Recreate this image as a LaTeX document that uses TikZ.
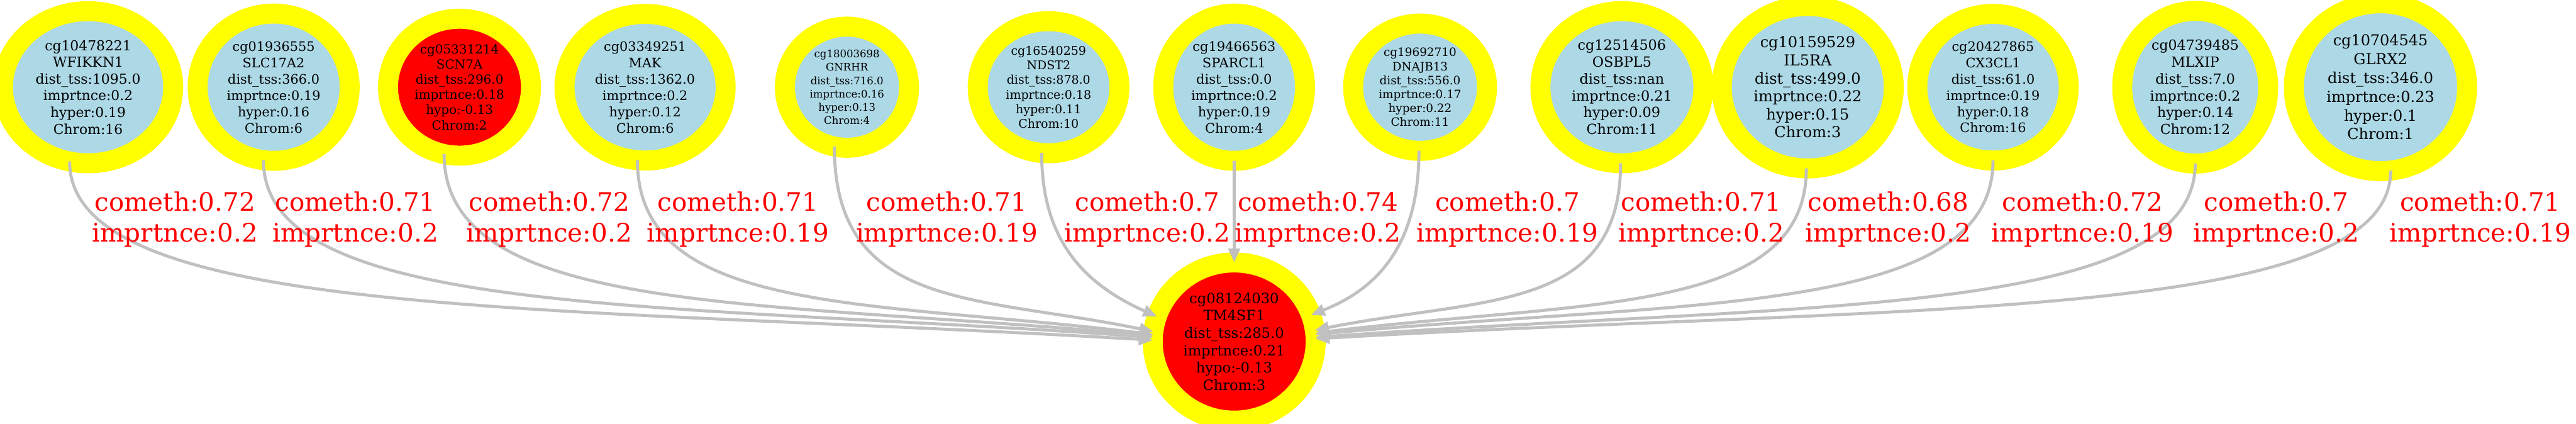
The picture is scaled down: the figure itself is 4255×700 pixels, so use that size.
\documentclass[tikz,border=0pt]{standalone}
\usepackage{fontspec}
\setmainfont{DejaVu Serif}
\usepackage{tikz}
\usetikzlibrary{arrows.meta,shapes.geometric}
\definecolor{lblue}{HTML}{ADD8E6}
\definecolor{egray}{HTML}{C0C0C0}
\definecolor{ring}{RGB}{255,255,0}
\definecolor{hypored}{RGB}{255,0,0}

\begin{document}
\begin{tikzpicture}[
  x=0.01cm, y=-0.01cm,
  cpg/.style={ellipse, draw=ring, line width=0.33cm, fill=lblue, inner sep=0pt, outer sep=0pt, align=center},
  hypo/.style={cpg, fill=hypored},
  fs/.style 2 args={font=\fontsize{#1pt}{#2pt}\selectfont},
  sz/.style 2 args={minimum width=#1, minimum height=#2},
  lab/.style={text=hypored, align=center, inner sep=0pt, fs={11.95}{14.4}},
  arr/.style={-{Triangle[length=0.23cm, width=0.19cm]}, draw=egray, line width=0.05cm}
]
  \useasboundingbox (0,0) rectangle (4255,700);
  \node[cpg, sz={2.81cm}{2.51cm}, fs={6.46}{7.85}] (wfikkn1) at (145.5,144) {cg10478221\\WFIKKN1\\dist\_tss:1095.0\\imprtnce:0.2\\hyper:0.19\\Chrom:16};
  \node[cpg, sz={2.51cm}{2.43cm}, fs={6.15}{7.68}] (slc17a2) at (452,144) {cg01936555\\SLC17A2\\dist\_tss:366.0\\imprtnce:0.19\\hyper:0.16\\Chrom:6};
  \node[hypo, sz={2.36cm}{2.26cm}, fs={5.89}{7.11}] (scn7a) at (759,144) {cg05331214\\SCN7A\\dist\_tss:296.0\\imprtnce:0.18\\hypo:-0.13\\Chrom:2};
  \node[cpg, sz={2.66cm}{2.42cm}, fs={6.15}{7.68}] (mak) at (1065.5,144) {cg03349251\\MAK\\dist\_tss:1362.0\\imprtnce:0.2\\hyper:0.12\\Chrom:6};
  \node[cpg, sz={2.05cm}{2.00cm}, fs={4.89}{6.26}] (gnrhr) at (1399,144) {cg18003698\\GNRHR\\dist\_tss:716.0\\imprtnce:0.16\\hyper:0.13\\Chrom:4};
  \node[cpg, sz={2.34cm}{2.18cm}, fs={5.61}{6.83}] (ndst2) at (1732,144) {cg16540259\\NDST2\\dist\_tss:878.0\\imprtnce:0.18\\hyper:0.11\\Chrom:10};
  \node[cpg, sz={2.34cm}{2.43cm}, fs={6.20}{7.68}] (sparcl1) at (2038.5,144) {cg19466563\\SPARCL1\\dist\_tss:0.0\\imprtnce:0.2\\hyper:0.19\\Chrom:4};
  \node[cpg, sz={2.21cm}{2.10cm}, fs={5.43}{6.54}] (dnajb13) at (2345.6,144) {cg19692710\\DNAJB13\\dist\_tss:556.0\\imprtnce:0.17\\hyper:0.22\\Chrom:11};
  \node[cpg, sz={2.69cm}{2.51cm}, fs={6.60}{7.91}] (osbpl5) at (2679,144) {cg12514506\\OSBPL5\\dist\_tss:nan\\imprtnce:0.21\\hyper:0.09\\Chrom:11};
  \node[cpg, sz={2.84cm}{2.68cm}, fs={7.11}{8.45}] (il5ra) at (2986,144) {cg10159529\\IL5RA\\dist\_tss:499.0\\imprtnce:0.22\\hyper:0.15\\Chrom:3};
  \node[cpg, sz={2.50cm}{2.42cm}, fs={6.15}{7.65}] (cx3cl1) at (3292,144) {cg20427865\\CX3CL1\\dist\_tss:61.0\\imprtnce:0.19\\hyper:0.18\\Chrom:16};
  \node[cpg, sz={2.41cm}{2.52cm}, fs={6.52}{7.91}] (mlxip) at (3626,144) {cg04739485\\MLXIP\\dist\_tss:7.0\\imprtnce:0.2\\hyper:0.14\\Chrom:12};
  \node[cpg, sz={2.86cm}{2.77cm}, fs={7.08}{8.82}] (glrx2) at (3932,144) {cg10704545\\GLRX2\\dist\_tss:346.0\\imprtnce:0.23\\hyper:0.1\\Chrom:1};
  \node[hypo, sz={2.69cm}{2.61cm}, fs={6.69}{8.17}] (tm4sf1) at (2038.6,564) {cg08124030\\TM4SF1\\dist\_tss:285.0\\imprtnce:0.21\\hypo:-0.13\\Chrom:3};

  \draw[arr] (wfikkn1.-104) .. controls +(0,263) and +(-982,-58) .. (tm4sf1.179);
  \draw[arr] (slc17a2.-98) .. controls +(0,261) and +(-807,-58) .. (tm4sf1.177);
  \draw[arr] (scn7a.-103) .. controls +(0,269) and +(-643,-60) .. (tm4sf1.176);
  \draw[arr] (mak.-96) .. controls +(0,257) and +(-467,-57) .. (tm4sf1.175);
  \draw[arr] (gnrhr.-102) .. controls +(0,272) and +(-288,-60) .. (tm4sf1.173);
  \draw[arr] (ndst2.-96) .. controls +(0,128) and +(-136,-60) .. (tm4sf1.162);
  \draw[arr] (sparcl1.south) -- (tm4sf1.north);
  \draw[arr] (dnajb13.-91) .. controls +(0,171) and +(95,-38) .. (tm4sf1.19);
  \draw[arr] (osbpl5.-91) .. controls +(0,248) and +(274,-55) .. (tm4sf1.8);
  \draw[arr] (il5ra.-91) .. controls +(0,243) and +(444,-54) .. (tm4sf1.6);
  \draw[arr] (cx3cl1.south) .. controls +(0,258) and +(613,-57) .. (tm4sf1.5);
  \draw[arr] (mlxip.south) .. controls +(0,257) and +(797,-57) .. (tm4sf1.3);
  \draw[arr] (glrx2.-83) .. controls +(0,251) and +(975,-56) .. (tm4sf1.2);

  \node[lab] (wfikkn1-lab) at (289,362) {cometh:0.72\\imprtnce:0.2};
  \node[lab] (slc17a2-lab) at (587,362) {cometh:0.71\\imprtnce:0.2};
  \node[lab] (scn7a-lab) at (907,362) {cometh:0.72\\imprtnce:0.2};
  \node[lab] (mak-lab) at (1219,362) {cometh:0.71\\imprtnce:0.19};
  \node[lab] (gnrhr-lab) at (1564,362) {cometh:0.71\\imprtnce:0.19};
  \node[lab] (ndst2-lab) at (1895,362) {cometh:0.7\\imprtnce:0.2};
  \node[lab] (sparcl1-lab) at (2177,362) {cometh:0.74\\imprtnce:0.2};
  \node[lab] (dnajb13-lab) at (2490,362) {cometh:0.7\\imprtnce:0.19};
  \node[lab] (osbpl5-lab) at (2810,362) {cometh:0.71\\imprtnce:0.2};
  \node[lab] (il5ra-lab) at (3119,362) {cometh:0.68\\imprtnce:0.2};
  \node[lab] (cx3cl1-lab) at (3440,362) {cometh:0.72\\imprtnce:0.19};
  \node[lab] (mlxip-lab) at (3760,362) {cometh:0.7\\imprtnce:0.2};
  \node[lab] (glrx2-lab) at (4097,362) {cometh:0.71\\imprtnce:0.19};
\end{tikzpicture}
\end{document}
